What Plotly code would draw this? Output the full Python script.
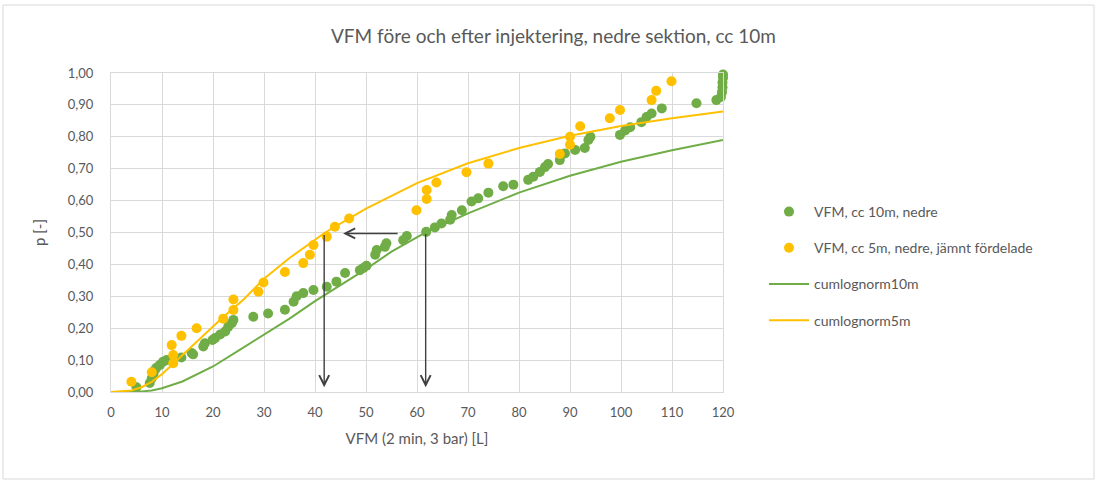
import plotly.graph_objects as go

# Measured VFM values (2 min, 3 bar) [L] and plotting positions p [-]
vfm_10m = [5.0, 7.6, 8.0, 8.3, 8.6, 8.9, 9.6, 10.2, 10.9, 13.8, 15.8, 16.1, 18.1, 18.4, 19.9,
           20.4, 21.4, 22.4, 23.0, 23.7, 24.0, 27.9, 30.8, 34.1, 35.8, 36.4, 37.7, 39.7,
           42.3, 44.2, 45.9, 48.8, 49.5, 50.1, 51.8, 52.1, 53.7, 54.0, 57.3, 58.0, 61.8,
           63.5, 64.8, 66.5, 66.8, 68.8, 70.7, 72.0, 74.0, 76.9, 78.9, 81.8, 82.8, 84.1,
           85.1, 85.7, 88.0, 89.0, 91.0, 92.9, 93.6, 94.0, 99.8, 100.8, 101.8, 104.0,
           105.0, 106.0, 108.0, 114.8, 118.7, 119.6, 119.8, 119.9, 119.9, 120.0, 120.0]
p_10m = [0.015, 0.028, 0.043, 0.055, 0.069, 0.076, 0.085, 0.095, 0.100, 0.108, 0.122, 0.118,
         0.143, 0.153, 0.163, 0.169, 0.180, 0.190, 0.205, 0.216, 0.226, 0.236, 0.246, 0.258,
         0.283, 0.300, 0.310, 0.320, 0.330, 0.346, 0.373, 0.382, 0.389, 0.396, 0.430, 0.445,
         0.455, 0.466, 0.476, 0.489, 0.502, 0.516, 0.528, 0.540, 0.555, 0.570, 0.597, 0.607,
         0.625, 0.645, 0.650, 0.665, 0.675, 0.690, 0.705, 0.715, 0.727, 0.748, 0.759, 0.765,
         0.790, 0.800, 0.806, 0.820, 0.830, 0.846, 0.862, 0.873, 0.889, 0.905, 0.915, 0.925,
         0.940, 0.955, 0.970, 0.985, 0.995]

vfm_5m = [4.0, 8.0, 12.2, 12.2, 11.9, 13.8, 16.8, 22.0, 24.0, 24.0, 28.9, 29.9, 34.1, 37.7,
          39.0, 39.7, 42.3, 43.9, 46.7, 59.9, 61.9, 61.9, 63.8, 69.7, 74.0, 88.0, 90.0, 90.0,
          92.0, 97.8, 99.8, 106.0, 106.9, 109.9]
p_5m = [0.032, 0.062, 0.090, 0.116, 0.147, 0.176, 0.200, 0.230, 0.257, 0.290, 0.314, 0.343,
        0.376, 0.404, 0.430, 0.461, 0.487, 0.518, 0.544, 0.570, 0.605, 0.633, 0.657, 0.689,
        0.716, 0.746, 0.775, 0.800, 0.833, 0.858, 0.884, 0.915, 0.944, 0.974]

# Fitted cumulative lognormal curves
fit10_x = [0, 5, 8, 10, 14, 20, 25, 30, 35, 40, 45, 50, 55, 61.7, 70, 80, 90, 100, 110, 120]
fit10_p = [0, 0, 0.005, 0.012, 0.033, 0.080, 0.130, 0.180, 0.230, 0.285, 0.335, 0.385,
           0.440, 0.500, 0.560, 0.625, 0.678, 0.722, 0.758, 0.790]
fit5_x = [0, 4, 6, 8, 10, 14, 18, 22, 26, 30, 35, 42, 50, 60, 70, 80, 90, 100, 110, 120]
fit5_p = [0, 0.005, 0.015, 0.032, 0.056, 0.115, 0.175, 0.235, 0.290, 0.355, 0.420, 0.500,
          0.575, 0.655, 0.717, 0.765, 0.803, 0.834, 0.858, 0.879]

# Median read-off arrows: (head x, head p, tail x, tail p)
arrows = [(41.8, 0.015, 41.8, 0.497),
          (61.7, 0.015, 61.7, 0.500),
          (45.5, 0.497, 56.5, 0.497)]

GREEN = "#70AD47"
YELLOW = "#FFC000"
TEXT = "#595959"
GRID = "#D9D9D9"
FONT = "Lato"

W, H = 1096, 481
L, R, T, B = 111, 373, 73, 89
pw, ph = W - L - R, H - T - B

fig = go.Figure()
fig.add_trace(go.Scatter(x=vfm_10m, y=p_10m, mode="markers", name="VFM, cc 10m, nedre",
                         marker=dict(color=GREEN, size=10), cliponaxis=False, legendgroup="a"))
fig.add_trace(go.Scatter(x=vfm_5m, y=p_5m, mode="markers",
                         name="VFM, cc 5m, nedre, jämnt fördelade",
                         marker=dict(color=YELLOW, size=10), legendgroup="b"))
fig.add_trace(go.Scatter(x=fit10_x, y=fit10_p, mode="lines", name="cumlognorm10m",
                         line=dict(color=GREEN, width=2), legendgroup="c"))
fig.add_trace(go.Scatter(x=fit5_x, y=fit5_p, mode="lines", name="cumlognorm5m",
                         line=dict(color=YELLOW, width=2), legendgroup="d"))

for hx, hy, tx, ty in arrows:
    fig.add_annotation(x=hx, y=hy, ax=tx, ay=ty, xref="x", yref="y", axref="x", ayref="y",
                       text="", showarrow=True, arrowhead=5, arrowsize=1.4, arrowwidth=1.4,
                       arrowcolor="#404040")

# Outer chart frame
fig.add_shape(type="rect", xref="paper", yref="paper",
              x0=(3 - L) / pw, x1=(1094 - L) / pw,
              y0=(H - B - 479) / ph, y1=(H - B - 5) / ph,
              line=dict(color=GRID, width=1), fillcolor="rgba(0,0,0,0)", layer="below")

fig.update_layout(
    width=W, height=H,
    margin=dict(l=L, r=R, t=T, b=B),
    paper_bgcolor="white", plot_bgcolor="white",
    separators=",.",
    font=dict(family=FONT, color=TEXT, size=13),
    title=dict(text="VFM före och efter injektering, nedre sektion, cc 10m",
               x=0.505, xanchor="center", y=1 - 36 / H, yanchor="middle",
               font=dict(size=19, color=TEXT, family=FONT)),
    xaxis=dict(range=[0, 120], dtick=10, tick0=0, showgrid=True, gridcolor=GRID,
               gridwidth=1, zeroline=False, showline=True, linecolor=GRID, mirror=True,
               ticks="", ticklabelstandoff=8,
               title=dict(text="VFM (2 min, 3 bar) [L]", font=dict(size=15), standoff=14)),
    yaxis=dict(range=[0, 1.0], dtick=0.1, tick0=0, tickformat=".2f", showgrid=True,
               gridcolor=GRID, gridwidth=1, zeroline=False, showline=True, linecolor=GRID,
               mirror=True, ticks="", ticklabelstandoff=14,
               title=dict(text="p [-]", font=dict(size=15), standoff=18)),
    legend=dict(x=(764 - L) / pw, xanchor="left", y=(H - B - 196) / ph, yanchor="top",
                font=dict(size=14, color=TEXT, family=FONT), tracegroupgap=15,
                bgcolor="rgba(0,0,0,0)", itemwidth=40),
    showlegend=True,
)

fig.write_html("out.html")
